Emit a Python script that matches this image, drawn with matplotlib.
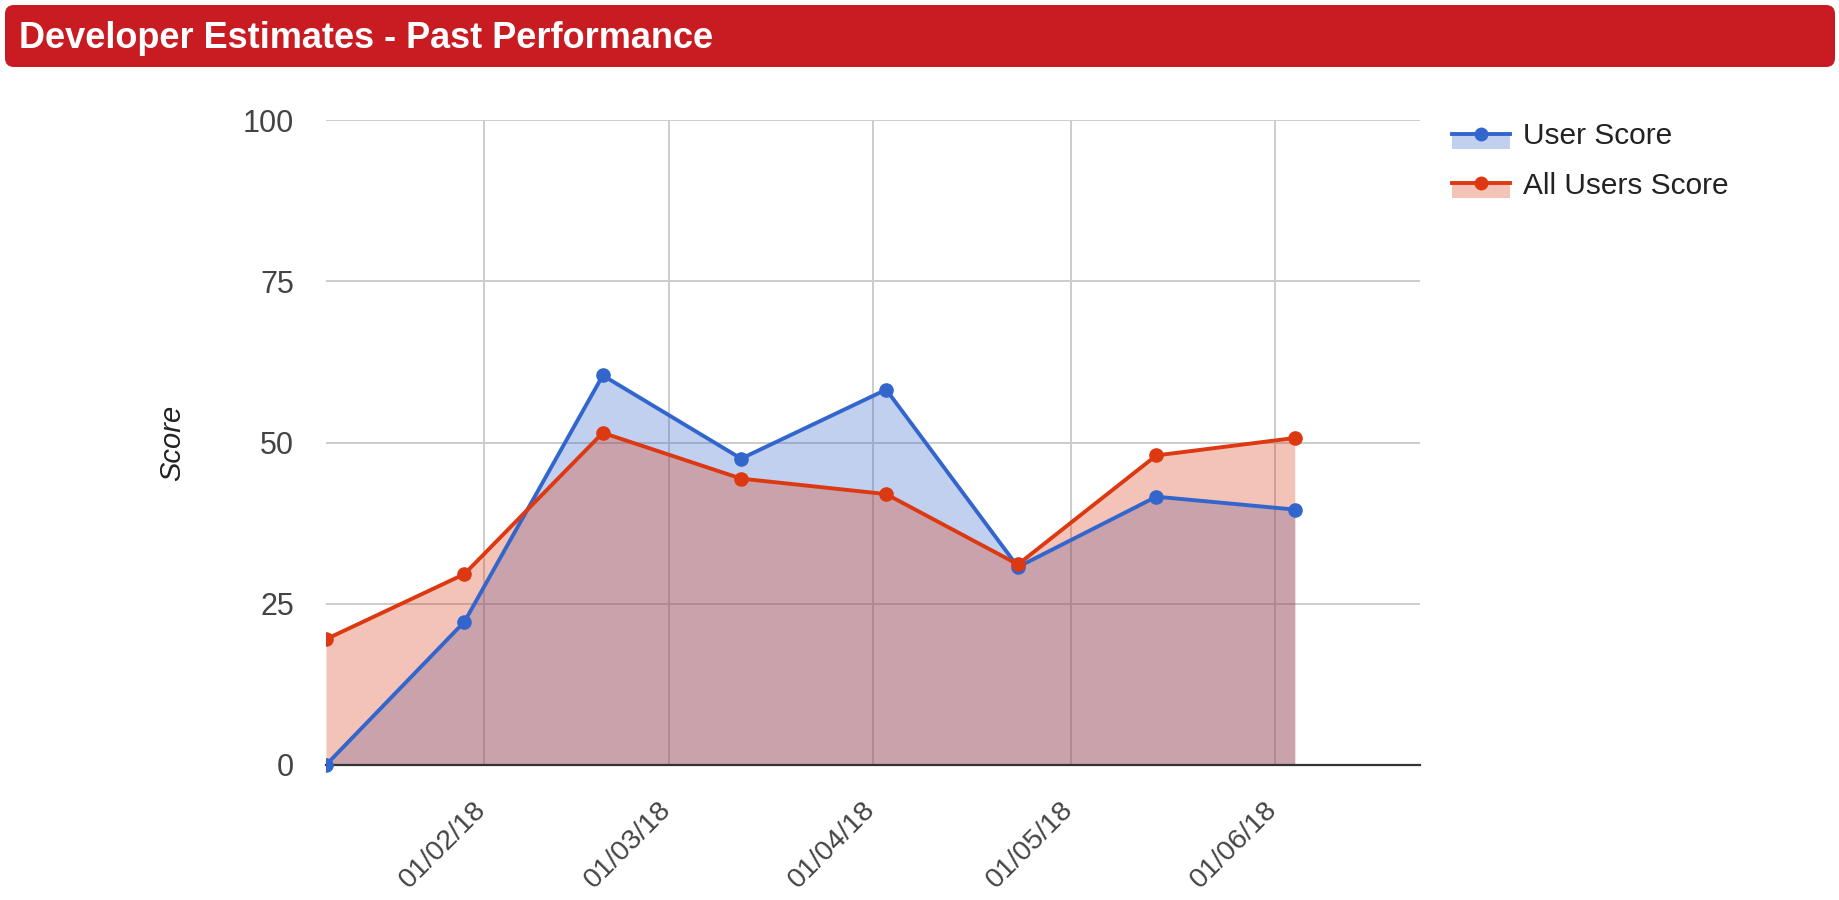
#!/usr/bin/env python3
"""Developer Estimates - Past Performance: user score vs all users score."""

from datetime import datetime

import matplotlib
matplotlib.use("Agg")
import matplotlib.pyplot as plt
import matplotlib.dates as mdates
from matplotlib.patches import FancyBboxPatch, Rectangle
from matplotlib.lines import Line2D
from matplotlib.legend_handler import HandlerBase
from matplotlib.transforms import ScaledTranslation, Bbox, TransformedBbox

dates = [datetime(2018, 1, 8), datetime(2018, 1, 29), datetime(2018, 2, 19),
         datetime(2018, 3, 12), datetime(2018, 4, 3), datetime(2018, 4, 23),
         datetime(2018, 5, 14), datetime(2018, 6, 4)]
user_score = [0, 22.2, 60.4, 47.5, 58.2, 30.7, 41.6, 39.6]
all_users_score = [19.5, 29.6, 51.5, 44.4, 42.0, 31.1, 48.0, 50.7]
y_ticks = [0, 25, 50, 75, 100]

BLUE = "#3366cc"
RED = "#dc3912"
HEADER = "#c81c22"

plt.rcParams["font.family"] = ["Liberation Sans", "DejaVu Sans"]


class AreaHandler(HandlerBase):
    """Legend key like Google charts: line with dot on top, pale band under it."""

    def create_artists(self, legend, orig, xdescent, ydescent, width, height,
                       fontsize, trans):
        color = orig.get_color()
        yc = height / 2 - ydescent
        band = Rectangle((-xdescent, yc - 10.8), width, 10.8,
                         facecolor=color, alpha=0.3, edgecolor="none",
                         transform=trans)
        line = Line2D([-xdescent, -xdescent + width], [yc, yc], color=color,
                      lw=2.8, transform=trans)
        dot = Line2D([-xdescent + width / 2], [yc], marker="o", color=color,
                     markersize=9, transform=trans)
        return [band, line, dot]


def main():
    fig = plt.figure(figsize=(18.4, 9), dpi=100)

    # header bar
    hdr = fig.add_axes([5 / 1840, 833 / 900, 1830 / 1840, 62 / 900])
    hdr.set_xlim(0, 1830)
    hdr.set_ylim(0, 62)
    hdr.axis("off")
    hdr.add_patch(FancyBboxPatch((0, 0), 1830, 62,
                                 boxstyle="round,pad=0,rounding_size=9",
                                 facecolor=HEADER, edgecolor="none"))
    hdr.text(14, 29, "Developer Estimates - Past Performance", color="white",
             fontsize=26, fontweight="bold", va="center", ha="left")

    ax = fig.add_axes([326 / 1840, 135 / 900, 1094 / 1840, 645 / 900])

    ax.fill_between(dates, user_score, 0, color=BLUE, alpha=0.3, lw=0, zorder=2)
    ax.fill_between(dates, all_users_score, 0, color=RED, alpha=0.3, lw=0, zorder=2)
    blue_line, = ax.plot(dates, user_score, "o-", color=BLUE, lw=2.8,
                         markersize=9.5, label="User Score", zorder=4)
    red_line, = ax.plot(dates, all_users_score, "o-", color=RED, lw=2.8,
                        markersize=9.5, label="All Users Score", zorder=5)
    # clip only at the sides, so the dot sitting on the baseline stays whole
    clip = TransformedBbox(Bbox([[0, -0.05], [1, 1.05]]), ax.transAxes)
    for ln in (blue_line, red_line):
        ln.set_clip_box(clip)

    ax.set_xlim(datetime(2018, 1, 8), datetime(2018, 6, 23))
    ax.set_ylim(0, 100)
    ax.set_yticks(y_ticks)
    ax.xaxis.set_major_locator(mdates.MonthLocator(bymonthday=1))
    ax.xaxis.set_major_formatter(mdates.DateFormatter("%d/%m/%y"))

    ax.grid(True, color="#cccccc", lw=1.4, zorder=0)
    ax.set_axisbelow(True)
    for side in ("top", "right", "left"):
        ax.spines[side].set_visible(False)
    ax.spines["bottom"].set_color("#333333")
    ax.spines["bottom"].set_linewidth(1.6)
    ax.spines["bottom"].set_zorder(3)

    ax.tick_params(axis="y", length=0, labelsize=22, labelcolor="#444444", pad=23)
    ax.tick_params(axis="x", length=0, labelsize=20.5, labelcolor="#444444", pad=23)
    shift = ScaledTranslation(-11 / 100, 0, fig.dpi_scale_trans)
    for lbl in ax.get_xticklabels():
        lbl.set_rotation(45)
        lbl.set_ha("right")
        lbl.set_va("top")
        lbl.set_rotation_mode("anchor")
        lbl.set_transform(lbl.get_transform() + shift)

    ax.set_ylabel("Score", fontsize=21, style="italic", color="#222222")
    ax.yaxis.set_label_coords(-0.128, 0.5)

    handles, labels = ax.get_legend_handles_labels()
    leg = ax.legend(handles, labels, loc="upper left",
                    bbox_to_anchor=(1452 / 1840, 1 - 122 / 900),
                    bbox_transform=fig.transFigure, frameon=False,
                    fontsize=21.5, borderpad=0, borderaxespad=0,
                    handlelength=1.95, handletextpad=0.44, labelspacing=0.72,
                    handler_map={h: AreaHandler() for h in handles})
    for t in leg.get_texts():
        t.set_color("#222222")

    fig.savefig("out.png", dpi=100)


if __name__ == "__main__":
    main()
